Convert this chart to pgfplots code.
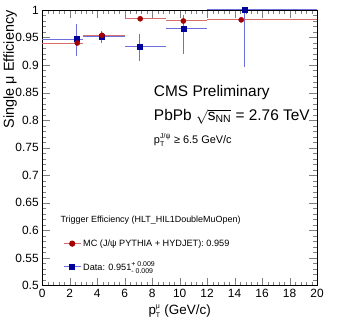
\documentclass[border=0pt]{standalone}
\usepackage{pgfplots}
\pgfplotsset{compat=1.18}
\usepackage{fontspec}
\setmainfont{Liberation Sans}
\definecolor{mcred}{RGB}{165,0,0}
\definecolor{mcline}{RGB}{215,110,110}
\definecolor{datablue}{RGB}{0,0,155}
\definecolor{dataline}{RGB}{110,110,220}
\newcommand{\sm}[1]{\mbox{\fontsize{7}{7}\selectfont #1}}
\begin{document}
\begin{tikzpicture}
\begin{axis}[
    scale only axis,
    width=276.3pt, height=277pt,
    xmin=0, xmax=20, ymin=0.5, ymax=1,
    xtick distance=2, ytick distance=0.05, minor tick num=4,
    tick align=inside,
    major tick length=8pt, minor tick length=4pt,
    tick label style={font=\fontsize{12}{13}\selectfont},
    /pgf/number format/assume math mode=true,
    yticklabel style={/pgf/number format/fixed, /pgf/number format/precision=2},
    xlabel={p$_{\sm{T}}^{\sm{μ}}$ (GeV/c)},
    xlabel style={font=\fontsize{13.5}{14}\selectfont},
    ylabel={Single μ Efficiency},
    ylabel style={at={(rel axis cs:0,1)}, anchor=south east, yshift=22pt, xshift=3pt, font=\fontsize{14.5}{15}\selectfont},
    legend style={draw=none, fill=none, at={(axis cs:1.3,0.591)}, anchor=north west,
        font=\fontsize{9.2}{10}\selectfont, row sep=10pt},
    legend cell align=left,
]
% data points, x errors reach the bin edges
\addplot[forget plot, only marks, mark=square*, mark size=2.5pt, color=datablue,
    error bars/.cd, x dir=both, x explicit, y dir=both, y explicit, error mark=none,
    error bar style={color=dataline, line width=1pt}]
coordinates {
 (2.5,0.947)  += (0.5,0.027) -= (2.5,0.031)
 (4.35,0.952) += (1.65,0.009) -= (1.35,0.012)
 (7.1,0.934)  += (1.9,0.023) -= (1.1,0.027)
 (10.27,0.966) += (1.73,0.024) -= (1.27,0.046)
 (14.7,1.000) += (5.3,0.050) -= (2.7,0.103)
};
% MC
\addplot[forget plot, only marks, mark=*, mark size=2.6pt, color=mcred,
    error bars/.cd, x dir=both, x explicit, y dir=both, y explicit, error mark=none,
    error bar style={color=mcline, line width=1pt}]
coordinates {
 (2.55,0.940)  += (0.45,0) -= (2.55,0)
 (4.35,0.954)  += (1.65,0) -= (1.35,0)
 (7.13,0.984)  += (1.87,0) -= (1.13,0)
 (10.27,0.980) += (1.73,0) -= (1.27,0)
 (14.48,0.982) += (5.52,0) -= (2.48,0)
};
\addlegendimage{mcline, line width=1pt, mark=*, mark size=2.6pt, mark options={mcred, fill=mcred}}
\addlegendentry{MC (J/ψ PYTHIA + HYDJET): 0.959}
\addlegendimage{dataline, line width=1pt, mark=square*, mark size=2.4pt, mark options={datablue, fill=datablue}}
\addlegendentry{Data: 0.951$^{\sm{+ 0.009}}_{\sm{- 0.009}}$}
\node[anchor=west, inner sep=0pt, font=\fontsize{15.5}{16}\selectfont] at (axis cs:8.12,0.850) {CMS Preliminary};
\node[anchor=west, inner sep=0pt, font=\fontsize{15.5}{16}\selectfont] at (axis cs:8.12,0.806) {PbPb $\sqrt{\mbox{s}_{\mbox{\fontsize{10.5}{10}\selectfont NN}}}$ = 2.76 TeV};
\node[anchor=west, inner sep=0pt, font=\fontsize{11}{12}\selectfont] at (axis cs:8.12,0.764) {p$_{\sm{T}}^{\sm{J/ψ}}$ ≥ 6.5 GeV/c};
\node[anchor=west, inner sep=0pt, font=\fontsize{9}{10}\selectfont] at (axis cs:1.32,0.618) {Trigger Efficiency (HLT\_HIL1DoubleMuOpen)};
\end{axis}
\path (current axis.south west) ++(-40.7pt,-40pt);
\path (current axis.north east) ++(23pt,10pt);
\end{tikzpicture}
\end{document}
